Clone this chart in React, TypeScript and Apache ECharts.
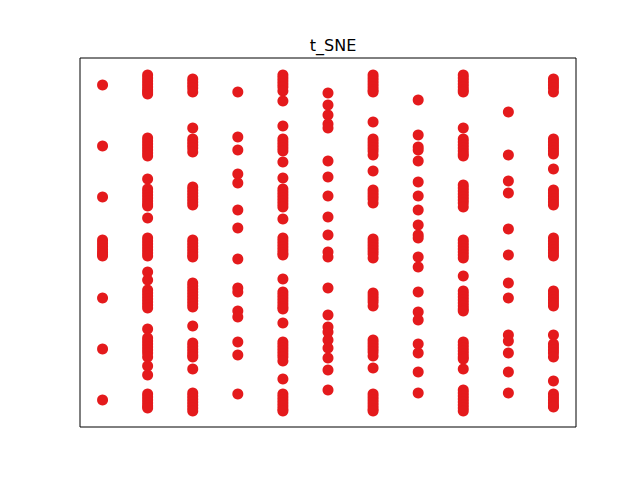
import * as echarts from 'echarts';
import { useEffect, useRef } from 'react';

// x positions of the 11 columns
const columns = [0, 1, 2, 3, 4, 5, 6, 7, 8, 9, 10];

// pixel rows (image y), converted to data below
const col0 = [85, 146, 197, 240, 243, 246, 249, 252, 254, 256, 298, 349, 400];
const col1 = [75, 78, 81, 84, 87, 90, 92, 94, 138, 141, 144, 147, 150, 153, 156, 179, 189, 192, 195, 198, 201, 204, 206, 218, 238, 241, 244, 247, 250, 253, 256, 272, 280, 290, 293, 296, 299, 302, 305, 308, 329, 338, 341, 344, 347, 350, 353, 357, 366, 375, 394, 397, 400, 403, 406, 408];
const col2 = [79, 82, 85, 88, 92, 128, 139, 142, 145, 148, 152, 187, 190, 193, 196, 199, 202, 205, 240, 243, 246, 249, 252, 255, 257, 283, 286, 289, 292, 295, 298, 301, 304, 307, 326, 343, 346, 349, 352, 355, 357, 369, 393, 396, 399, 402, 405, 408, 411];
const col3 = [92, 137, 150, 174, 183, 210, 228, 259, 288, 292, 311, 317, 342, 355, 394];
const col4 = [75, 78, 81, 84, 87, 91, 101, 126, 139, 142, 145, 148, 151, 162, 178, 189, 192, 195, 198, 201, 204, 207, 219, 238, 241, 244, 247, 250, 253, 255, 279, 292, 295, 298, 301, 304, 307, 309, 323, 342, 345, 348, 351, 354, 357, 361, 379, 394, 397, 400, 403, 406, 409, 411];
const col5 = [93, 105, 115, 124, 128, 161, 177, 196, 217, 235, 252, 257, 288, 315, 327, 332, 340, 348, 358, 370, 390];
const col6 = [75, 78, 81, 84, 87, 90, 92, 122, 139, 142, 145, 148, 151, 155, 171, 190, 193, 196, 199, 203, 239, 242, 245, 248, 251, 254, 258, 293, 296, 299, 302, 306, 340, 343, 346, 349, 352, 356, 368, 394, 397, 400, 403, 406, 409, 411];
const col7 = [100, 135, 147, 150, 161, 182, 196, 210, 225, 235, 238, 257, 267, 292, 312, 320, 344, 353, 372, 393];
const col8 = [75, 78, 81, 84, 87, 90, 92, 128, 139, 142, 145, 148, 151, 154, 156, 185, 188, 191, 194, 197, 200, 203, 207, 240, 243, 246, 249, 252, 255, 258, 276, 291, 294, 297, 300, 303, 306, 309, 311, 342, 345, 348, 351, 354, 357, 359, 369, 390, 393, 396, 399, 402, 405, 408, 411];
const col9 = [112, 155, 181, 193, 229, 255, 283, 298, 335, 341, 353, 372, 393];
const col10 = [79, 82, 85, 88, 92, 139, 142, 145, 148, 151, 154, 169, 190, 193, 196, 199, 202, 205, 238, 241, 244, 247, 250, 253, 256, 291, 294, 297, 300, 303, 306, 335, 344, 347, 350, 353, 357, 381, 394, 397, 400, 403, 406, 407];

const rows = [col0, col1, col2, col3, col4, col5, col6, col7, col8, col9, col10];

const App: React.FC = () => {
  const chartRef = useRef<HTMLDivElement>(null);

  useEffect(() => {
    if (!chartRef.current) return;
    document.body.style.margin = '0';

    const mychart = echarts.init(chartRef.current, undefined, { renderer: 'svg' });

    const points: number[][] = [];
    columns.forEach((x, i) => {
      rows[i].forEach((py) => points.push([x, 427 - py]));
    });

    mychart.setOption({
      animation: false,
      backgroundColor: '#ffffff',
      title: {
        text: 't_SNE',
        left: 328,
        top: 32,
        textAlign: 'center',
        textStyle: {
          fontFamily: 'DejaVu Sans',
          fontSize: 16,
          fontWeight: 'normal',
          color: '#000000'
        }
      },
      grid: {
        left: 80,
        top: 58,
        width: 496,
        height: 369,
        show: true,
        borderColor: '#000000',
        borderWidth: 1,
        backgroundColor: 'transparent'
      },
      xAxis: {
        type: 'value',
        min: -0.5,
        max: 10.5,
        axisLine: { show: false },
        axisTick: { show: false },
        axisLabel: { show: false },
        splitLine: { show: false }
      },
      yAxis: {
        type: 'value',
        min: 0,
        max: 369,
        axisLine: { show: false },
        axisTick: { show: false },
        axisLabel: { show: false },
        splitLine: { show: false }
      },
      series: [
        {
          type: 'scatter',
          data: points,
          symbol: 'circle',
          symbolSize: 11,
          itemStyle: { color: '#e41a1c', opacity: 1 }
        }
      ]
    });

    return () => {
      if (!mychart.isDisposed()) {
        mychart.dispose();
      }
    };
  }, []);

  return <div ref={chartRef} style={{ width: '640px', height: '480px' }}></div>;
};

export default App;
